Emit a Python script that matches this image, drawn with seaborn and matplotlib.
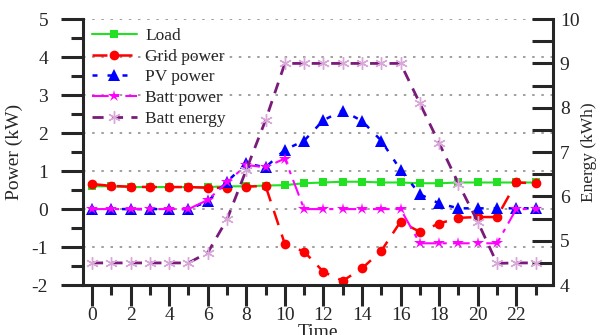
import numpy as np
import pandas as pd
import matplotlib
matplotlib.use("Agg")
import matplotlib.pyplot as plt
import seaborn as sns
from matplotlib.ticker import MultipleLocator

# hourly data
hours = list(range(24))
load = [0.60, 0.60, 0.58, 0.58, 0.58, 0.58, 0.58, 0.60, 0.60, 0.62, 0.63, 0.68,
        0.70, 0.72, 0.72, 0.70, 0.70, 0.68, 0.68, 0.70, 0.70, 0.70, 0.70, 0.70]
grid_power = [0.66, 0.61, 0.59, 0.58, 0.58, 0.58, 0.56, 0.56, 0.59, 0.61, -0.92, -1.12,
              -1.65, -1.89, -1.56, -1.10, -0.33, -0.60, -0.38, -0.23, -0.21, -0.21, 0.70, 0.68]
pv_power = [0.0, 0.0, 0.0, 0.0, 0.0, 0.0, 0.20, 0.72, 1.20, 1.10, 1.56, 1.80,
            2.34, 2.59, 2.32, 1.80, 1.03, 0.39, 0.15, 0.02, 0.02, 0.02, 0.02, 0.02]
batt_power = [0.0, 0.0, 0.0, 0.0, 0.0, 0.0, 0.24, 0.70, 1.16, 1.10, 1.33, 0.0,
              0.0, 0.0, 0.0, 0.0, 0.0, -0.90, -0.90, -0.90, -0.90, -0.90, 0.0, 0.0]
batt_energy = [4.5, 4.5, 4.5, 4.5, 4.5, 4.5, 4.73, 5.48, 6.6, 7.72, 9.0, 9.0,
               9.0, 9.0, 9.0, 9.0, 9.0, 8.1, 7.2, 6.29, 5.43, 4.49, 4.5, 4.5]

df = pd.DataFrame({"hour": hours, "load": load, "grid": grid_power,
                   "pv": pv_power, "batt": batt_power, "energy": batt_energy})

sns.set_style("white")
plt.rcParams["font.family"] = ["Liberation Serif", "DejaVu Serif"]
plt.rcParams["axes.unicode_minus"] = False

fig = plt.figure(figsize=(6.01, 3.35), dpi=100)
ax = fig.add_axes([0.138, 0.149, 0.782, 0.794])
ax2 = ax.twinx()

# power series on the left axis
sns.lineplot(data=df, x="hour", y="load", ax=ax, color="#22e022", marker="s",
             markersize=6, markeredgewidth=0, linewidth=1.5, label="Load")
sns.lineplot(data=df, x="hour", y="grid", ax=ax, color="red", marker="o",
             markersize=7, markeredgewidth=0, linewidth=1.8,
             linestyle=(0, (6, 4)), label="Grid power")
sns.lineplot(data=df, x="hour", y="pv", ax=ax, color="blue", marker="^",
             markersize=8, markeredgewidth=0, linewidth=1.8,
             linestyle=(0, (2, 4)), label="PV power")
sns.lineplot(data=df, x="hour", y="batt", ax=ax, color="magenta", marker="*",
             markersize=9, markeredgewidth=0, linewidth=1.5,
             linestyle=(0, (8, 3, 2, 3)), label="Batt power")
# battery energy on the right axis
sns.lineplot(data=df, x="hour", y="energy", ax=ax2, color="#7a1a7a", marker=(6, 2, 0),
             markersize=9, markeredgecolor="#d8a8d8", markeredgewidth=1.0,
             linewidth=2, linestyle=(0, (4, 3)), label="Batt energy")

ax.set_xlim(-0.47, 23.9)
ax.set_ylim(-2, 5)
ax2.set_ylim(4, 10)

ax.xaxis.set_major_locator(MultipleLocator(2))
ax.xaxis.set_minor_locator(MultipleLocator(1))
ax.yaxis.set_major_locator(MultipleLocator(1))
ax.yaxis.set_minor_locator(MultipleLocator(0.5))
ax2.yaxis.set_major_locator(MultipleLocator(1))
ax2.yaxis.set_minor_locator(MultipleLocator(0.5))

ax.grid(axis="y", which="major", color="#909090", linestyle=(0, (1.5, 4)), linewidth=1.2)

for a in (ax, ax2):
    a.spines["top"].set_visible(False)
    for s in a.spines.values():
        s.set_linewidth(2.2)
ax.spines["right"].set_visible(False)
ax2.spines["left"].set_visible(False)
ax2.spines["bottom"].set_visible(False)

ax.tick_params(axis="y", which="major", direction="out", length=16, width=2.2,
               labelsize=14, pad=9, left=True)
ax.tick_params(axis="y", which="minor", direction="out", length=8.5, width=2.2, left=True)
ax.tick_params(axis="x", which="major", direction="out", length=15, width=2.2,
               labelsize=14, pad=1, bottom=True)
ax.tick_params(axis="x", which="minor", direction="out", length=7, width=2.2, bottom=True)
ax2.tick_params(axis="y", which="both", direction="in", length=15, width=2.2,
                labelsize=14, pad=5, right=True)

ax.set_xlabel("Time", fontsize=14, labelpad=0)
ax.set_ylabel("Power (kW)", fontsize=14, labelpad=6)
ax2.set_ylabel("Energy (kWh)", fontsize=12.5, labelpad=1)

# one legend with all five series
h1, l1 = ax.get_legend_handles_labels()
h2, l2 = ax2.get_legend_handles_labels()
ax.get_legend().remove()
ax2.get_legend().remove()
ax2.legend(h1 + h2, l1 + l2, loc="upper left", bbox_to_anchor=(0.0, 1.0),
           frameon=False, fontsize=12.5, handlelength=2.6, handletextpad=0.5,
           labelspacing=0.26, borderaxespad=0.1)

fig.savefig("out.png", dpi=100)
